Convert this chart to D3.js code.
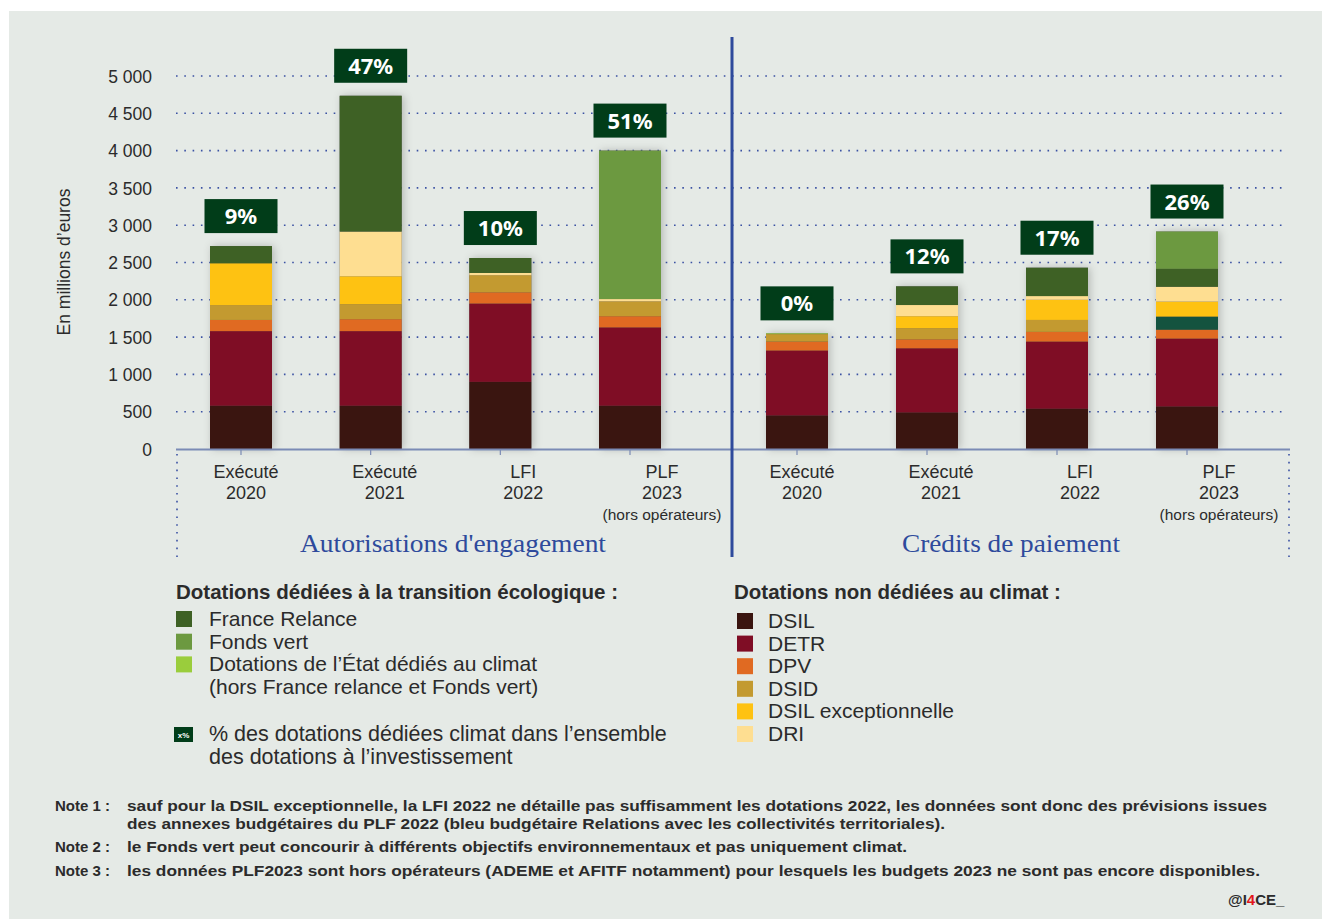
<!DOCTYPE html>
<html>
<head>
<meta charset="utf-8">
<script src="https://cdn.jsdelivr.net/npm/d3@7"></script>
<style>
  body { margin: 0; background: #fff; }
  svg { display: block; font-family: "Liberation Sans", Arial, sans-serif; }
</style>
</head>
<body>
<svg id="chart" width="1322" height="919"></svg>
<script>
// bars: 4 AE then 4 CP
var barKeys = ['ae0', 'ae1', 'ae2', 'ae3', 'cp0', 'cp1', 'cp2', 'cp3'];
var barLabels = [
  ['Exécuté', '2020'], ['Exécuté', '2021'], ['LFI', '2022'], ['PLF', '2023', '(hors opérateurs)'],
  ['Exécuté', '2020'], ['Exécuté', '2021'], ['LFI', '2022'], ['PLF', '2023', '(hors opérateurs)']
];
var groupTitles = ["Autorisations d'engagement", 'Crédits de paiement'];

// series values (millions d'euros), same order as barKeys
var dsil     = [580, 580, 900, 580, 450, 490, 540, 570];
var detr     = [1000, 1000, 1050, 1050, 870, 860, 900, 910];
var dpv      = [150, 160, 150, 150, 120, 120, 130, 120];
var autre    = [0, 0, 0, 0, 0, 0, 0, 175];
var dsid     = [200, 200, 230, 200, 100, 150, 160, 0];
var dsilExc  = [560, 375, 0, 0, 0, 160, 270, 200];
var dri      = [0, 600, 30, 30, 0, 150, 50, 200];
var climat   = [0, 0, 0, 0, 10, 0, 0, 0];
var relance  = [230, 1820, 200, 0, 0, 250, 380, 240];
var fondsVert = [0, 0, 0, 1990, 0, 0, 0, 500];
var partClimat = [9, 47, 10, 51, 0, 12, 17, 26];

var yTicks = [0, 500, 1000, 1500, 2000, 2500, 3000, 3500, 4000, 4500, 5000];

var series = [
  { key: 'DSIL', values: dsil, color: '#3a1510' },
  { key: 'DETR', values: detr, color: '#7f0d25' },
  { key: 'DPV', values: dpv, color: '#e06a22' },
  { key: 'Autre', values: autre, color: '#14533f' },
  { key: 'DSID', values: dsid, color: '#c39a30' },
  { key: 'DSIL exceptionnelle', values: dsilExc, color: '#fec212' },
  { key: 'DRI', values: dri, color: '#fede91' },
  { key: 'Climat', values: climat, color: '#9acd3c' },
  { key: 'France Relance', values: relance, color: '#3e6125' },
  { key: 'Fonds vert', values: fondsVert, color: '#6c9940' }
];
var colorOf = {};
series.forEach(function(s) { colorOf[s.key] = s.color; });

var legendClimat = [
  ['France Relance', 'France Relance'],
  ['Fonds vert', 'Fonds vert'],
  ['Climat', 'Dotations de l\u2019État dédiés au climat', '(hors France relance et Fonds vert)']
];
var legendAutres = ['DSIL', 'DETR', 'DPV', 'DSID', 'DSIL exceptionnelle', 'DRI'];

var notes = [
  ['Note 1 :', ['sauf pour la DSIL exceptionnelle, la LFI 2022 ne détaille pas suffisamment les dotations 2022, les données sont donc des prévisions issues',
                'des annexes budgétaires du PLF 2022 (bleu budgétaire Relations avec les collectivités territoriales).']],
  ['Note 2 :', ['le Fonds vert peut concourir à différents objectifs environnementaux et pas uniquement climat.']],
  ['Note 3 :', ['les données PLF2023 sont hors opérateurs (ADEME et AFITF notamment) pour lesquels les budgets 2023 ne sont pas encore disponibles.']]
];

var svg = d3.select('#chart');
var textColor = '#2b2b2b';
var navy = '#2e4a9c';
var axisBlue = '#7b8bb5';

// panel background
svg.append('rect').attr('x', 9).attr('y', 11).attr('width', 1313).attr('height', 908).attr('fill', '#e5eae6');

var defs = svg.append('defs');
var f = defs.append('filter').attr('id', 'shadow').attr('x', '-30%').attr('y', '-10%').attr('width', '160%').attr('height', '120%');
f.append('feDropShadow').attr('dx', 2).attr('dy', 0).attr('stdDeviation', 4).attr('flood-color', '#000').attr('flood-opacity', 0.22);

var fr = d3.formatLocale({ decimal: ',', thousands: '\u00a0', grouping: [3], currency: ['', ' €'] });

var y = d3.scaleLinear().domain([0, 5000]).range([449, 76]);
var xLeft = d3.scalePoint().domain(barKeys.slice(0, 4)).range([241, 630]);
var xRight = d3.scalePoint().domain(barKeys.slice(4)).range([797, 1187]);
var lblLeft = d3.scalePoint().domain(barKeys.slice(0, 4)).range([246, 662]);
var lblRight = d3.scalePoint().domain(barKeys.slice(4)).range([802, 1219]);
function xc(k) { return k.indexOf('ae') === 0 ? xLeft(k) : xRight(k); }
function xl(k) { return k.indexOf('ae') === 0 ? lblLeft(k) : lblRight(k); }
var barW = 62;

// gridlines + y labels
var yAxis = d3.axisLeft(y).tickValues(yTicks).tickFormat(function(d) { return fr.format(',')(d); })
  .tickSize(0).tickPadding(0);
var gy = svg.append('g').attr('transform', 'translate(152,0)').call(yAxis);
gy.select('.domain').remove();
gy.selectAll('text').attr('font-size', 17.5).attr('fill', textColor).attr('font-family', '"Liberation Sans", Arial, sans-serif').attr('dy', '0.35em');

svg.append('g').selectAll('line').data(yTicks.filter(function(d) { return d > 0; })).enter().append('line')
  .attr('x1', 176).attr('x2', 1287)
  .attr('y1', function(d) { return y(d); }).attr('y2', function(d) { return y(d); })
  .attr('stroke', '#3b52a3').attr('stroke-width', 1.6).attr('stroke-dasharray', '1.6 6.7');

// y title
svg.append('text').attr('transform', 'translate(70,262) rotate(-90)')
  .attr('text-anchor', 'middle').attr('font-size', 17.5).attr('fill', textColor)
  .text('En millions d\u2019euros');

// stacked bars
var table = barKeys.map(function(k, i) {
  var row = { key: k };
  series.forEach(function(s) { row[s.key] = s.values[i]; });
  return row;
});
var stack = d3.stack().keys(series.map(function(s) { return s.key; }))(table);

var totals = barKeys.map(function(k, i) {
  return d3.sum(series, function(s) { return s.values[i]; });
});

// shadows behind whole bars
svg.append('g').selectAll('rect').data(barKeys).enter().append('rect')
  .attr('x', function(k) { return xc(k) - barW / 2; })
  .attr('width', barW)
  .attr('y', function(k, i) { return y(totals[i]); })
  .attr('height', function(k, i) { return y(0) - y(totals[i]); })
  .attr('fill', '#555').attr('filter', 'url(#shadow)');

svg.append('g').selectAll('g').data(stack).enter().append('g')
  .attr('fill', function(d) { return colorOf[d.key]; })
  .selectAll('rect').data(function(d) { return d.filter(function(p) { return p[1] > p[0]; }); })
  .enter().append('rect')
  .attr('x', function(p) { return xc(p.data.key) - barW / 2; })
  .attr('width', barW)
  .attr('y', function(p) { return y(p[1]); })
  .attr('height', function(p) { return y(p[0]) - y(p[1]); });

// percentage boxes
var pg = svg.append('g').selectAll('g').data(barKeys).enter().append('g')
  .attr('transform', function(k, i) { return 'translate(' + xc(k) + ',' + (y(totals[i]) - 13) + ')'; });
pg.append('rect').attr('x', -36.5).attr('y', -34).attr('width', 73).attr('height', 34).attr('fill', '#013d19');
pg.append('text').attr('y', -9).attr('text-anchor', 'middle')
  .attr('font-family', '"Noto Sans", "DejaVu Sans", sans-serif').attr('font-weight', 'bold')
  .attr('font-size', 22).attr('fill', '#fff')
  .text(function(k, i) { return partClimat[i] + '%'; });

// x axis
svg.append('line').attr('x1', 176).attr('x2', 1290).attr('y1', 449.5).attr('y2', 449.5)
  .attr('stroke', axisBlue).attr('stroke-width', 2);
svg.append('g').selectAll('line').data(barKeys).enter().append('line')
  .attr('x1', function(k) { return xc(k); }).attr('x2', function(k) { return xc(k); })
  .attr('y1', 450).attr('y2', 455).attr('stroke', axisBlue).attr('stroke-width', 1.2);
[177, 1289].forEach(function(xx) {
  svg.append('line').attr('x1', xx).attr('x2', xx).attr('y1', 454).attr('y2', 558)
    .attr('stroke', '#3b52a3').attr('stroke-width', 1.6).attr('stroke-dasharray', '1.6 6.2');
});
svg.append('line').attr('x1', 732).attr('x2', 732).attr('y1', 37).attr('y2', 557)
  .attr('stroke', navy).attr('stroke-width', 3);

// x labels
var lg = svg.append('g').selectAll('text').data(barKeys).enter().append('text')
  .attr('text-anchor', 'middle').attr('fill', textColor)
  .attr('transform', function(k) { return 'translate(' + xl(k) + ',0)'; });
lg.selectAll('tspan').data(function(k, i) { return barLabels[i]; }).enter().append('tspan')
  .attr('x', 0)
  .attr('y', function(d, j) { return 478 + j * 21; })
  .attr('font-size', function(d, j) { return j === 2 ? 15.5 : 18; })
  .attr('font-family', function(d, j) { return j === 2 ? '"Liberation Sans Narrow", "Liberation Sans", sans-serif' : null; })
  .text(function(d) { return d; });

// group titles
svg.append('g').selectAll('text').data(groupTitles).enter().append('text')
  .attr('x', function(d, i) { return i === 0 ? 453 : 1011; }).attr('y', 552)
  .attr('text-anchor', 'middle').attr('fill', navy)
  .attr('font-family', '"Liberation Serif", "DejaVu Serif", serif').attr('font-size', 25)
  .attr('textLength', function(d, i) { return i === 0 ? 306 : 218; }).attr('lengthAdjust', 'spacingAndGlyphs')
  .text(function(d) { return d; });

// legend left
svg.append('text').attr('x', 176).attr('y', 599).attr('font-size', 20.5).attr('font-weight', 'bold')
  .attr('fill', textColor).text('Dotations dédiées à la transition écologique :');
var ll = svg.append('g').selectAll('g').data(legendClimat).enter().append('g')
  .attr('transform', function(d, i) { return 'translate(176,' + (611 + i * 22.7) + ')'; });
ll.append('rect').attr('width', 16).attr('height', 16).attr('fill', function(d) { return colorOf[d[0]]; });
ll.append('text').attr('fill', textColor).attr('font-size', 21)
  .selectAll('tspan').data(function(d) { return d.slice(1); }).enter().append('tspan')
  .attr('x', 33).attr('y', function(d, j) { return 15 + j * 23; }).text(function(d) { return d; });

var li = svg.append('g').attr('transform', 'translate(174,727)');
li.append('rect').attr('width', 19).attr('height', 15).attr('fill', '#013d19');
li.append('text').attr('x', 9.5).attr('y', 11).attr('text-anchor', 'middle').attr('fill', '#fff')
  .attr('font-size', 8).attr('font-weight', 'bold').text('x%');
li.append('text').attr('fill', textColor).attr('font-size', 21.5)
  .selectAll('tspan').data(['% des dotations dédiées climat dans l\u2019ensemble', 'des dotations à l\u2019investissement'])
  .enter().append('tspan').attr('x', 35).attr('y', function(d, j) { return 14 + j * 23; }).text(function(d) { return d; });

// legend right
svg.append('text').attr('x', 734).attr('y', 599).attr('font-size', 20.5).attr('font-weight', 'bold')
  .attr('fill', textColor).text('Dotations non dédiées au climat :');
var lr = svg.append('g').selectAll('g').data(legendAutres).enter().append('g')
  .attr('transform', function(d, i) { return 'translate(737,' + (613 + i * 22.6) + ')'; });
lr.append('rect').attr('width', 16).attr('height', 16).attr('fill', function(d) { return colorOf[d]; });
lr.append('text').attr('x', 31).attr('y', 15).attr('fill', textColor).attr('font-size', 21).text(function(d) { return d; });

// notes
var noteLens = [[1140, 818], [780], [1133]];
var noteY = [811, 852, 876];
notes.forEach(function(n, i) {
  svg.append('text').attr('x', 55).attr('y', noteY[i]).attr('font-size', 15).attr('font-weight', 'bold')
    .attr('fill', textColor).text(n[0]);
  n[1].forEach(function(line, j) {
    svg.append('text').attr('x', 127).attr('y', noteY[i] + j * 18).attr('font-size', 15).attr('font-weight', 'bold')
      .attr('fill', textColor).attr('textLength', noteLens[i][j]).attr('lengthAdjust', 'spacingAndGlyphs')
      .text(line);
  });
});

var sig = svg.append('text').attr('x', 1228).attr('y', 905).attr('font-size', 15).attr('font-weight', 'bold').attr('fill', textColor);
sig.append('tspan').text('@I');
sig.append('tspan').attr('fill', '#e3161b').text('4');
sig.append('tspan').text('CE_');
</script>
</body>
</html>
